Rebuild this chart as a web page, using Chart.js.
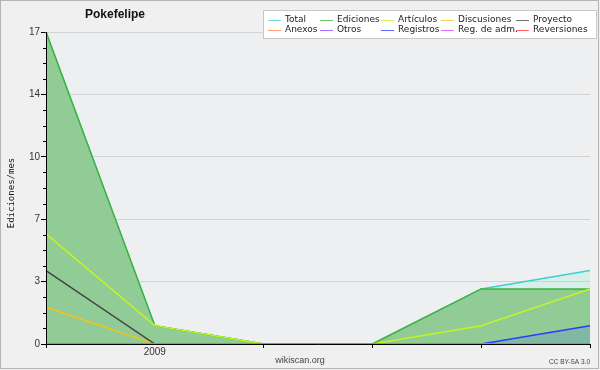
<!DOCTYPE html>
<html><head><meta charset="utf-8">
<script src="https://cdn.jsdelivr.net/npm/chart.js@4"></script>
<style>html,body{margin:0;padding:0;background:#f0f0f0;}#wrap{width:600px;height:370px;position:relative}</style>
</head><body><div id="wrap"><canvas id="c" width="600" height="370"></canvas></div>
<script>
const months = ['2008-12','2009-01','2009-02','2009-03','2009-04','2009-05'];
const total       = [17, 1, 0, 0, 3, 4];
const ediciones   = [17, 1, 0, 0, 3, 3];
const articulos   = [6, 1, 0, 0, 1, 3];
const discusiones = [2, 0, 0, 0, 0, 0];
const proyecto    = [4, 0, 0, 0, 0, 0];
const anexos      = [0, 0, 0, 0, 0, 0];
const otros       = [0, 0, 0, 0, 0, 0];
const registros   = [0, 0, 0, 0, 0, 1];
const regAdm      = [0, 0, 0, 0, 0, 0];
const reversiones = [0, 0, 0, 0, 0, 0];
const yTickValues = [0, 3.4, 6.8, 10.2, 13.6, 17];
const yTickLabels = ['0', '3', '7', '10', '14', '17'];
const titleText = 'Pokefelipe';
const yTitle = 'Ediciones/mes';

function ds(label, data, color, order, extra) {
  return Object.assign({label, data, borderColor: color, borderWidth: 1.5, pointRadius: 0,
    fill: false, tension: 0, order}, extra || {});
}
const datasets = [
  ds('Total', total, '#3fd0cc', 10, {fill: 1, backgroundColor: 'rgba(120,245,205,0.2)'}),
  ds('Ediciones', ediciones, '#3cb43c', 9, {fill: 'origin', backgroundColor: 'rgb(145,203,150)'}),
  ds('Artículos', articulos, '#c4f51e', 5),
  ds('Discusiones', discusiones, '#f2c21a', 4),
  ds('Proyecto', proyecto, '#444444', 3),
  ds('Anexos', anexos, '#ff8040', 2),
  ds('Otros', otros, '#8a3cff', 2),
  ds('Registros', registros, '#2a3cff', 8, {fill: 'origin', backgroundColor: 'rgba(40,80,255,0.15)'}),
  ds('Reg. de adm.', regAdm, '#d040f0', 2),
  ds('Reversiones', reversiones, '#ff3030', 2)
];

const deco = {
  id: 'deco',
  beforeDraw(chart) {
    const ctx = chart.ctx, a = chart.chartArea;
    ctx.save();
    ctx.fillStyle = '#f0f0f0';
    ctx.fillRect(0, 0, chart.width, chart.height);
    ctx.fillStyle = '#eeeff1';
    ctx.fillRect(a.left, a.top, a.right - a.left, a.bottom - a.top);
    ctx.restore();
  },
  afterDraw(chart) {
    const ctx = chart.ctx, y = chart.scales.y, a = chart.chartArea;
    ctx.save();
    // minor ticks
    ctx.strokeStyle = '#000'; ctx.lineWidth = 1;
    for (let i = 1; i < 20; i++) {
      if (i % 4 === 0) continue;
      const py = Math.round(y.getPixelForValue(i * 0.85)) + 0.5;
      ctx.beginPath(); ctx.moveTo(a.left - 3, py); ctx.lineTo(a.left, py); ctx.stroke();
    }
    // outer border
    ctx.strokeStyle = '#b4b4b4';
    ctx.strokeRect(0.5, 0.5, 598, 368);
    // title
    ctx.fillStyle = '#111';
    ctx.font = 'bold 12px "Liberation Sans", Arial, sans-serif';
    ctx.textAlign = 'left'; ctx.textBaseline = 'alphabetic';
    ctx.fillText(titleText, 85, 17.5);
    // y title
    ctx.save();
    ctx.translate(12, 193); ctx.rotate(-Math.PI / 2);
    ctx.font = '9px "DejaVu Sans Mono", monospace';
    ctx.textAlign = 'center'; ctx.textBaseline = 'middle';
    ctx.fillStyle = '#111';
    ctx.fillText(yTitle, 0, 0);
    ctx.restore();
    // legend
    ctx.fillStyle = '#ffffff';
    ctx.fillRect(263.5, 10.5, 333, 28);
    ctx.strokeStyle = '#c8c8c8';
    ctx.strokeRect(263.5, 10.5, 333, 28);
    const cols = [268, 320, 381, 441, 516], rows = [20, 30];
    ctx.font = '9px "DejaVu Sans", sans-serif';
    ctx.textBaseline = 'middle'; ctx.textAlign = 'left';
    chart.data.datasets.forEach((d, i) => {
      const cx = cols[i % 5], ry = rows[Math.floor(i / 5)];
      ctx.strokeStyle = d.borderColor; ctx.globalAlpha = 0.75; ctx.lineWidth = 1;
      ctx.beginPath(); ctx.moveTo(cx, ry + 0.5); ctx.lineTo(cx + 13, ry + 0.5); ctx.stroke();
      ctx.globalAlpha = 1;
      ctx.fillStyle = '#222';
      ctx.fillText(d.label, cx + 17, ry - 0.5);
    });
    // footer
    ctx.fillStyle = '#444';
    ctx.font = '9px "Liberation Sans", Arial, sans-serif';
    ctx.textAlign = 'center'; ctx.textBaseline = 'alphabetic';
    ctx.fillText('wikiscan.org', 300, 363);
    ctx.font = '6.5px "Liberation Sans", Arial, sans-serif';
    ctx.textAlign = 'right';
    ctx.fillText('CC BY-SA 3.0', 590, 364);
    ctx.restore();
  }
};

new Chart(document.getElementById('c'), {
  type: 'line',
  data: {labels: months, datasets},
  plugins: [deco],
  options: {
    responsive: false, animation: false, devicePixelRatio: 1,
    layout: {padding: {top: 32, right: 10, bottom: 0, left: 0}},
    plugins: {legend: {display: false}, title: {display: false}, tooltip: {enabled: false}},
    elements: {line: {borderCapStyle: 'butt'}},
    scales: {
      x: {
        type: 'category', offset: false,
        afterFit(s) { s.height = 26; },
        border: {color: '#000', width: 1, z: 1},
        grid: {drawOnChartArea: false, tickLength: 4,
          tickColor: c => (months[c.index] || '').endsWith('-01') ? 'rgba(0,0,0,0)' : '#000'},
        ticks: {autoSkip: false, maxRotation: 0, minRotation: 0, padding: -2,
          color: '#333', font: {family: '"Liberation Sans", Arial, sans-serif', size: 10},
          callback: (v, i) => months[i].endsWith('-01') ? months[i].slice(0, 4) : ''}
      },
      y: {
        min: 0, max: 17,
        afterFit(s) { s.width = 46; },
        afterBuildTicks(s) { s.ticks = yTickValues.map(v => ({value: v})); },
        border: {color: '#000', width: 1, z: 1},
        grid: {color: '#d2d2d2', tickColor: '#000', tickLength: 5},
        ticks: {padding: 1, color: '#333', font: {family: '"Liberation Sans", Arial, sans-serif', size: 10},
          callback: (v, i) => yTickLabels[i]}
      }
    }
  }
});
</script></body></html>
